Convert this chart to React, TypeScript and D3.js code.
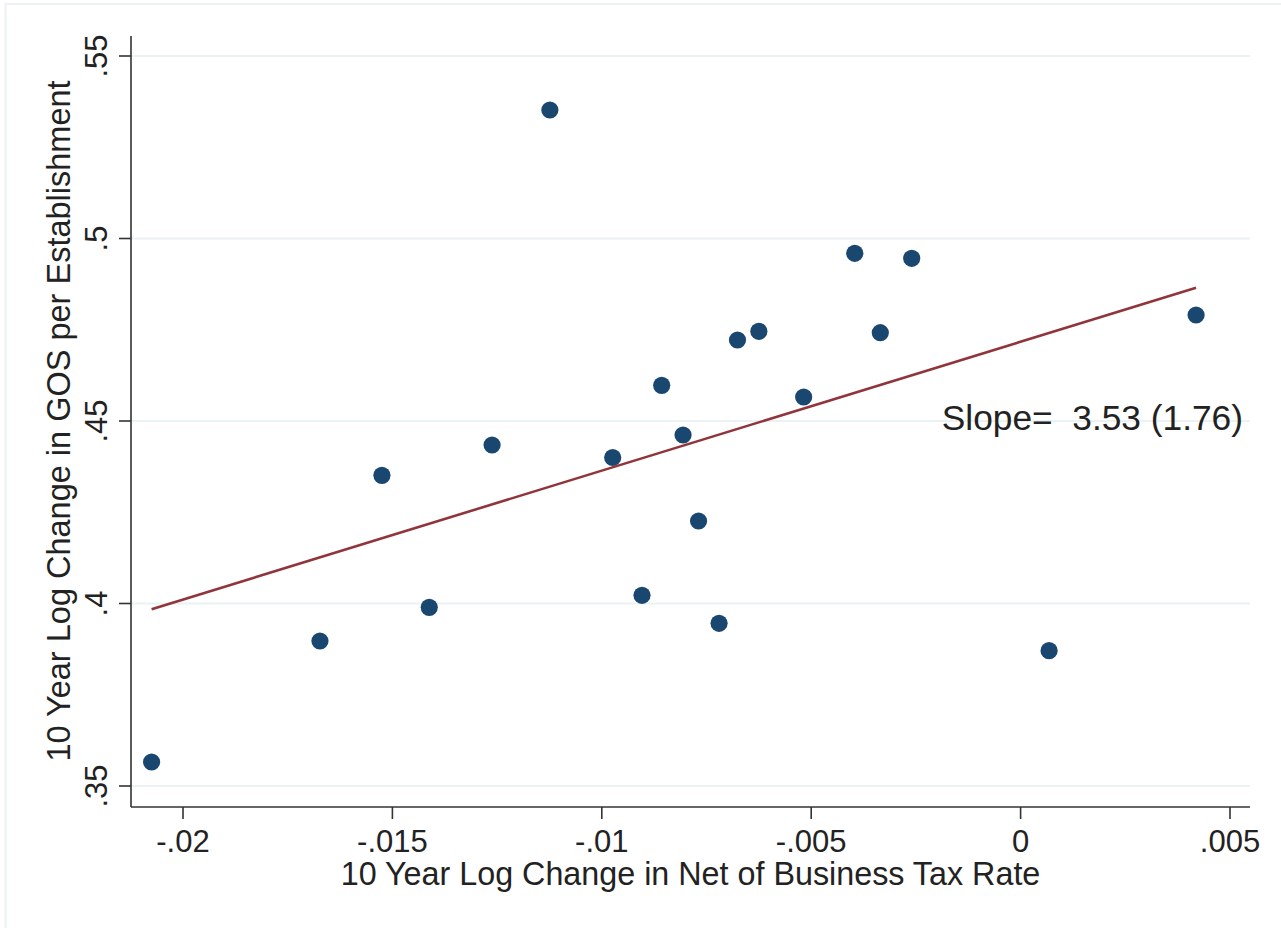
import React from "react";
import * as d3 from "d3";

// Data
const taxChange: number[] = [
  -0.02075, -0.01673, -0.01525, -0.01412, -0.01262, -0.01124, -0.00974,
  -0.00904, -0.00857, -0.00806, -0.00769, -0.0072, -0.00676, -0.00625,
  -0.00518, -0.00396, -0.00335, -0.0026, 0.00068, 0.00419,
];
const gosChange: number[] = [
  0.35658, 0.38973, 0.43512, 0.39896, 0.44342, 0.53521, 0.44, 0.40225,
  0.45978, 0.44616, 0.4226, 0.39458, 0.47219, 0.47458, 0.45658, 0.49595,
  0.47419, 0.49458, 0.38707, 0.47904,
];
// Fitted line as reported on the chart
const fitSlope = 3.53;
const fitIntercept = 0.4717;
const xTicks: number[] = [-0.02, -0.015, -0.01, -0.005, 0, 0.005];
const xTickLabels: string[] = ["-.02", "-.015", "-.01", "-.005", "0", ".005"];
const yTicks: number[] = [0.35, 0.4, 0.45, 0.5, 0.55];
const yTickLabels: string[] = [".35", ".4", ".45", ".5", ".55"];
const xTitle = "10 Year Log Change in Net of Business Tax Rate";
const yTitle = "10 Year Log Change in GOS per Establishment";
const slopeLabel = "Slope=  3.53 (1.76)";

const W = 1281;
const H = 928;
const FONT = "'Liberation Sans', Arial, Helvetica, sans-serif";
const TEXT = "#222";
const GRID = "#eaf2f3";
const NAVY = "#1a476f";
const MAROON = "#90353b";

export default function App() {
  const x = d3.scaleLinear().domain([-0.02, 0.005]).range([183, 1230]);
  const y = d3.scaleLinear().domain([0.35, 0.55]).range([786, 56]);
  const left = 131;
  const right = 1250;
  const top = 36;
  const bottom = 807;

  const x0 = d3.min(taxChange) as number;
  const x1 = d3.max(taxChange) as number;
  const line = d3
    .line<number>()
    .x((d) => x(d))
    .y((d) => y(fitIntercept + fitSlope * d));

  return (
    <div style={{ position: "absolute", left: 0, top: 0, width: W, height: H, background: "#fff" }}>
      <svg width={W} height={H} style={{ display: "block" }} fontFamily={FONT}>
        <rect x={0} y={0} width={W} height={H} fill="#fff" />
        <rect x={5.5} y={4} width={W + 20} height={H + 20} fill="none" stroke={GRID} strokeWidth={2} />
        {/* gridlines */}
        {yTicks.map((t) => (
          <line key={"g" + t} x1={left} x2={right} y1={y(t)} y2={y(t)} stroke={GRID} strokeWidth={2} />
        ))}
        {/* axes */}
        <line x1={left} x2={left} y1={top} y2={bottom} stroke="#333" strokeWidth={1.6} />
        <line x1={left} x2={right} y1={bottom} y2={bottom} stroke="#333" strokeWidth={1.6} />
        {yTicks.map((t, i) => (
          <g key={"y" + t}>
            <line x1={left - 12} x2={left} y1={y(t)} y2={y(t)} stroke="#333" strokeWidth={1.6} />
            <text
              transform={`translate(107,${y(t)}) rotate(-90)`}
              textAnchor="middle"
              fontSize={31}
              fill={TEXT}
            >
              {yTickLabels[i]}
            </text>
          </g>
        ))}
        {xTicks.map((t, i) => (
          <g key={"x" + t}>
            <line x1={x(t)} x2={x(t)} y1={bottom} y2={bottom + 12} stroke="#333" strokeWidth={1.6} />
            <text x={x(t)} y={852} textAnchor="middle" fontSize={31} fill={TEXT}>
              {xTickLabels[i]}
            </text>
          </g>
        ))}
        <text x={(left + right) / 2} y={885} textAnchor="middle" fontSize={32.3} fill={TEXT}>
          {xTitle}
        </text>
        <text
          transform={`translate(70,${(y(0.35) + y(0.55)) / 2}) rotate(-90)`}
          textAnchor="middle"
          fontSize={32.5}
          fill={TEXT}
        >
          {yTitle}
        </text>
        {/* points */}
        {taxChange.map((v, i) => (
          <circle key={"p" + i} cx={x(v)} cy={y(gosChange[i])} r={8.6} fill={NAVY} />
        ))}
        {/* fit line */}
        <path d={line([x0, x1]) || ""} fill="none" stroke={MAROON} strokeWidth={2.6} />
        <text
          x={1243}
          y={430}
          textAnchor="end"
          fontSize={35.3}
          fill={TEXT}
          style={{ whiteSpace: "pre" }}
          xmlSpace="preserve"
        >
          {slopeLabel}
        </text>
      </svg>
    </div>
  );
}
